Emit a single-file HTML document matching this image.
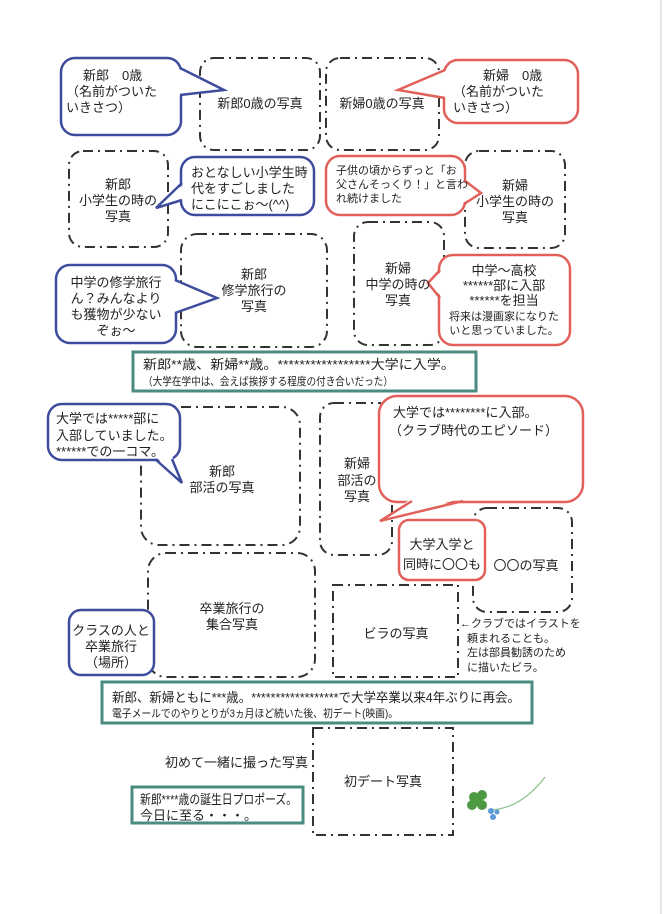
<!DOCTYPE html>
<html><head><meta charset="utf-8"><style>
html,body{margin:0;padding:0;background:#fff;}
svg{display:block;}
text{font-family:"Liberation Sans","Noto Sans CJK JP",sans-serif;fill:#222;}
.p{fill:none;stroke:#333;stroke-width:2;stroke-dasharray:10 5 2 5;}
.b{fill:#fff;stroke:#3d4c9c;stroke-width:2.5;}
.r{fill:#fff;stroke:#e2605a;stroke-width:2.5;}
.t{fill:#fff;stroke:#4b8b80;stroke-width:3;}
.m{font-size:13px;}
.s{font-size:11px;}
</style></head><body>
<svg width="668" height="914" viewBox="0 0 668 914" xmlns="http://www.w3.org/2000/svg">
<rect width="668" height="914" fill="#fff"/>
<line x1="661" y1="0" x2="661" y2="914" stroke="#e6e6e6" stroke-width="2"/>

<!-- photo boxes -->
<rect class="p" x="200" y="58" width="120" height="92" rx="14"/>
<rect class="p" x="326" y="58" width="113" height="92" rx="14"/>
<rect class="p" x="69" y="151" width="99" height="96" rx="14"/>
<rect class="p" x="465" y="151" width="100" height="97" rx="14"/>
<rect class="p" x="181" y="234" width="146" height="113" rx="16"/>
<rect class="p" x="354" y="222" width="90" height="123" rx="14"/>
<rect class="p" x="141" y="407" width="159" height="138" rx="18"/>
<rect class="p" x="320" y="403" width="72" height="152" rx="14"/>
<rect class="p" x="473" y="508" width="99" height="104" rx="14"/>
<rect class="p" x="148" y="553" width="167" height="124" rx="18"/>
<rect class="p" x="333" y="585" width="125" height="92"/>
<rect class="p" x="313" y="728" width="140" height="107"/>

<!-- callouts -->
<rect class="b" x="61" y="58" width="120" height="77" rx="14"/>
<polygon points="177,68 224,90 177,95" fill="#fff"/><polyline points="180,68 224,90 180,95" fill="none" stroke="#3d4c9c" stroke-width="2.5"/>

<rect class="r" x="444" y="60" width="134" height="63" rx="14"/>
<polygon points="448,70 398,90 448,98" fill="#fff"/><polyline points="445,70 398,90 445,98" fill="none" stroke="#e2605a" stroke-width="2.5"/>

<rect class="b" x="181" y="157" width="133" height="58" rx="14"/>
<polygon points="185,183 156,208 185,200" fill="#fff"/><polyline points="182,183 156,208 182,200" fill="none" stroke="#3d4c9c" stroke-width="2.5"/>

<rect class="r" x="326" y="156" width="139" height="59" rx="14"/>
<polygon points="461,180 481,193 461,204" fill="#fff"/><polyline points="464,180 481,193 464,204" fill="none" stroke="#e2605a" stroke-width="2.5"/>

<rect class="b" x="56" y="265" width="120" height="78" rx="14"/>
<polygon points="172,280 217,298 172,313" fill="#fff"/><polyline points="175,280 217,298 175,313" fill="none" stroke="#3d4c9c" stroke-width="2.5"/>

<rect class="r" x="439" y="255" width="131" height="90" rx="14"/>
<polygon points="443,270 428,283 443,298" fill="#fff"/><polyline points="440,270 428,283 440,298" fill="none" stroke="#e2605a" stroke-width="2.5"/>

<rect class="b" x="48" y="404" width="132" height="56" rx="14"/>
<polygon points="155,456 182,483 172,456" fill="#fff"/><polyline points="155,459 182,483 172,459" fill="none" stroke="#3d4c9c" stroke-width="2.5"/>

<rect class="r" x="379" y="396" width="204" height="106" rx="18"/>
<polygon points="412,498 380,521 463,498" fill="#fff"/><polyline points="412,501 380,521 463,501" fill="none" stroke="#e2605a" stroke-width="2.5"/>

<rect class="r" x="399" y="520" width="86" height="60" rx="10"/>
<rect class="b" x="69" y="610" width="85" height="65" rx="12"/>

<!-- teal boxes -->
<rect class="t" x="133" y="352" width="343" height="39"/>
<rect class="t" x="102" y="682" width="430" height="41"/>
<rect class="t" x="132" y="787" width="171" height="36"/>

<!-- texts -->
<g class="m">
<text x="70" y="80">　新郎　0歳</text>
<text x="66" y="96">（名前がついた</text>
<text x="66" y="112">いきさつ）</text>
<text x="260" y="108" text-anchor="middle">新郎0歳の写真</text>
<text x="382" y="108" text-anchor="middle">新婦0歳の写真</text>
<text x="470" y="80">　新婦　0歳</text>
<text x="453" y="96">（名前がついた</text>
<text x="453" y="112">いきさつ）</text>

<text x="118" y="189" text-anchor="middle">新郎</text>
<text x="118" y="205" text-anchor="middle">小学生の時の</text>
<text x="118" y="221" text-anchor="middle">写真</text>
<text x="191" y="177">おとなしい小学生時</text>
<text x="191" y="193">代をすごしました</text>
<text x="191" y="209">にこにこぉ～(^^)</text>
<text x="515" y="190" text-anchor="middle">新婦</text>
<text x="515" y="206" text-anchor="middle">小学生の時の</text>
<text x="515" y="222" text-anchor="middle">写真</text>

<text x="116" y="287" text-anchor="middle">中学の修学旅行</text>
<text x="116" y="303" text-anchor="middle">ん？みんなより</text>
<text x="116" y="319" text-anchor="middle">も獲物が少ない</text>
<text x="116" y="335" text-anchor="middle">ぞぉ～</text>
<text x="254" y="279" text-anchor="middle">新郎</text>
<text x="254" y="295" text-anchor="middle">修学旅行の</text>
<text x="254" y="311" text-anchor="middle">写真</text>
<text x="398" y="273" text-anchor="middle">新婦</text>
<text x="398" y="289" text-anchor="middle">中学の時の</text>
<text x="398" y="305" text-anchor="middle">写真</text>
<text x="504" y="275" text-anchor="middle">中学～高校</text>
<text x="504" y="290" text-anchor="middle">******部に入部</text>
<text x="504" y="305" text-anchor="middle">******を担当</text>

<text x="143" y="369" textLength="312" lengthAdjust="spacingAndGlyphs">新郎**歳、新婦**歳。*****************大学に入学。</text>

<text x="56" y="423">大学では*****部に</text>
<text x="56" y="440">入部していました。</text>
<text x="56" y="456">******での一コマ。</text>
<text x="222" y="476" text-anchor="middle">新郎</text>
<text x="222" y="492" text-anchor="middle">部活の写真</text>
<text x="357" y="468" text-anchor="middle">新婦</text>
<text x="357" y="485" text-anchor="middle">部活の</text>
<text x="357" y="501" text-anchor="middle">写真</text>
<text x="393" y="417">大学では********に入部。</text>
<text x="389" y="435">（クラブ時代のエピソード）</text>
<text x="442" y="549" text-anchor="middle">大学入学と</text>
<text x="442" y="569" text-anchor="middle" style="font-family:'Noto Sans CJK JP',sans-serif">同時に〇〇も</text>
<text x="526" y="570" text-anchor="middle" style="font-family:'Noto Sans CJK JP',sans-serif">〇〇の写真</text>

<text x="232" y="613" text-anchor="middle">卒業旅行の</text>
<text x="232" y="629" text-anchor="middle">集合写真</text>
<text x="111" y="635" text-anchor="middle">クラスの人と</text>
<text x="111" y="651" text-anchor="middle">卒業旅行</text>
<text x="111" y="667" text-anchor="middle">（場所）</text>
<text x="396" y="638" text-anchor="middle">ビラの写真</text>

<text x="112" y="702" textLength="408" lengthAdjust="spacingAndGlyphs">新郎、新婦ともに***歳。******************で大学卒業以来4年ぶりに再会。</text>

<text x="308" y="767" text-anchor="end">初めて一緒に撮った写真</text>
<text x="383" y="786" text-anchor="middle">初デート写真</text>
<text x="140" y="804" textLength="157" lengthAdjust="spacingAndGlyphs">新郎****歳の誕生日プロポーズ。</text>
<text x="140" y="820">今日に至る・・・。</text>
</g>
<g class="s">
<text x="336" y="174">子供の頃からずっと「お</text>
<text x="336" y="188">父さんそっくり！」と言わ</text>
<text x="336" y="202">れ続けました</text>
<text x="504" y="320" text-anchor="middle">将来は漫画家になりた</text>
<text x="504" y="334" text-anchor="middle">いと思っていました。</text>
<text x="143" y="385" textLength="250" lengthAdjust="spacingAndGlyphs">（大学在学中は、会えば挨拶する程度の付き合いだった）</text>
<text x="460" y="627">←クラブではイラストを</text>
<text x="467" y="642">頼まれることも。</text>
<text x="467" y="656">左は部員勧誘のため</text>
<text x="467" y="671">に描いたビラ。</text>
<text x="112" y="717" textLength="286" lengthAdjust="spacingAndGlyphs">電子メールでのやりとりが3ヵ月ほど続いた後、初デート(映画)。</text>
</g>

<!-- clover -->
<path d="M488,810 Q520,810 545,777" fill="none" stroke="#8cc08a" stroke-width="1.2"/>
<g fill="#4e9a44">
<circle cx="474" cy="797" r="5"/><circle cx="482" cy="795" r="5"/>
<circle cx="472" cy="805" r="5"/><circle cx="482" cy="805" r="5"/>
<circle cx="477" cy="801" r="5"/>
</g>
<g fill="#5b9bd8">
<circle cx="491" cy="811" r="3"/><circle cx="493" cy="817" r="3"/><circle cx="497" cy="812" r="2.5"/>
</g>
</svg>
</body></html>
